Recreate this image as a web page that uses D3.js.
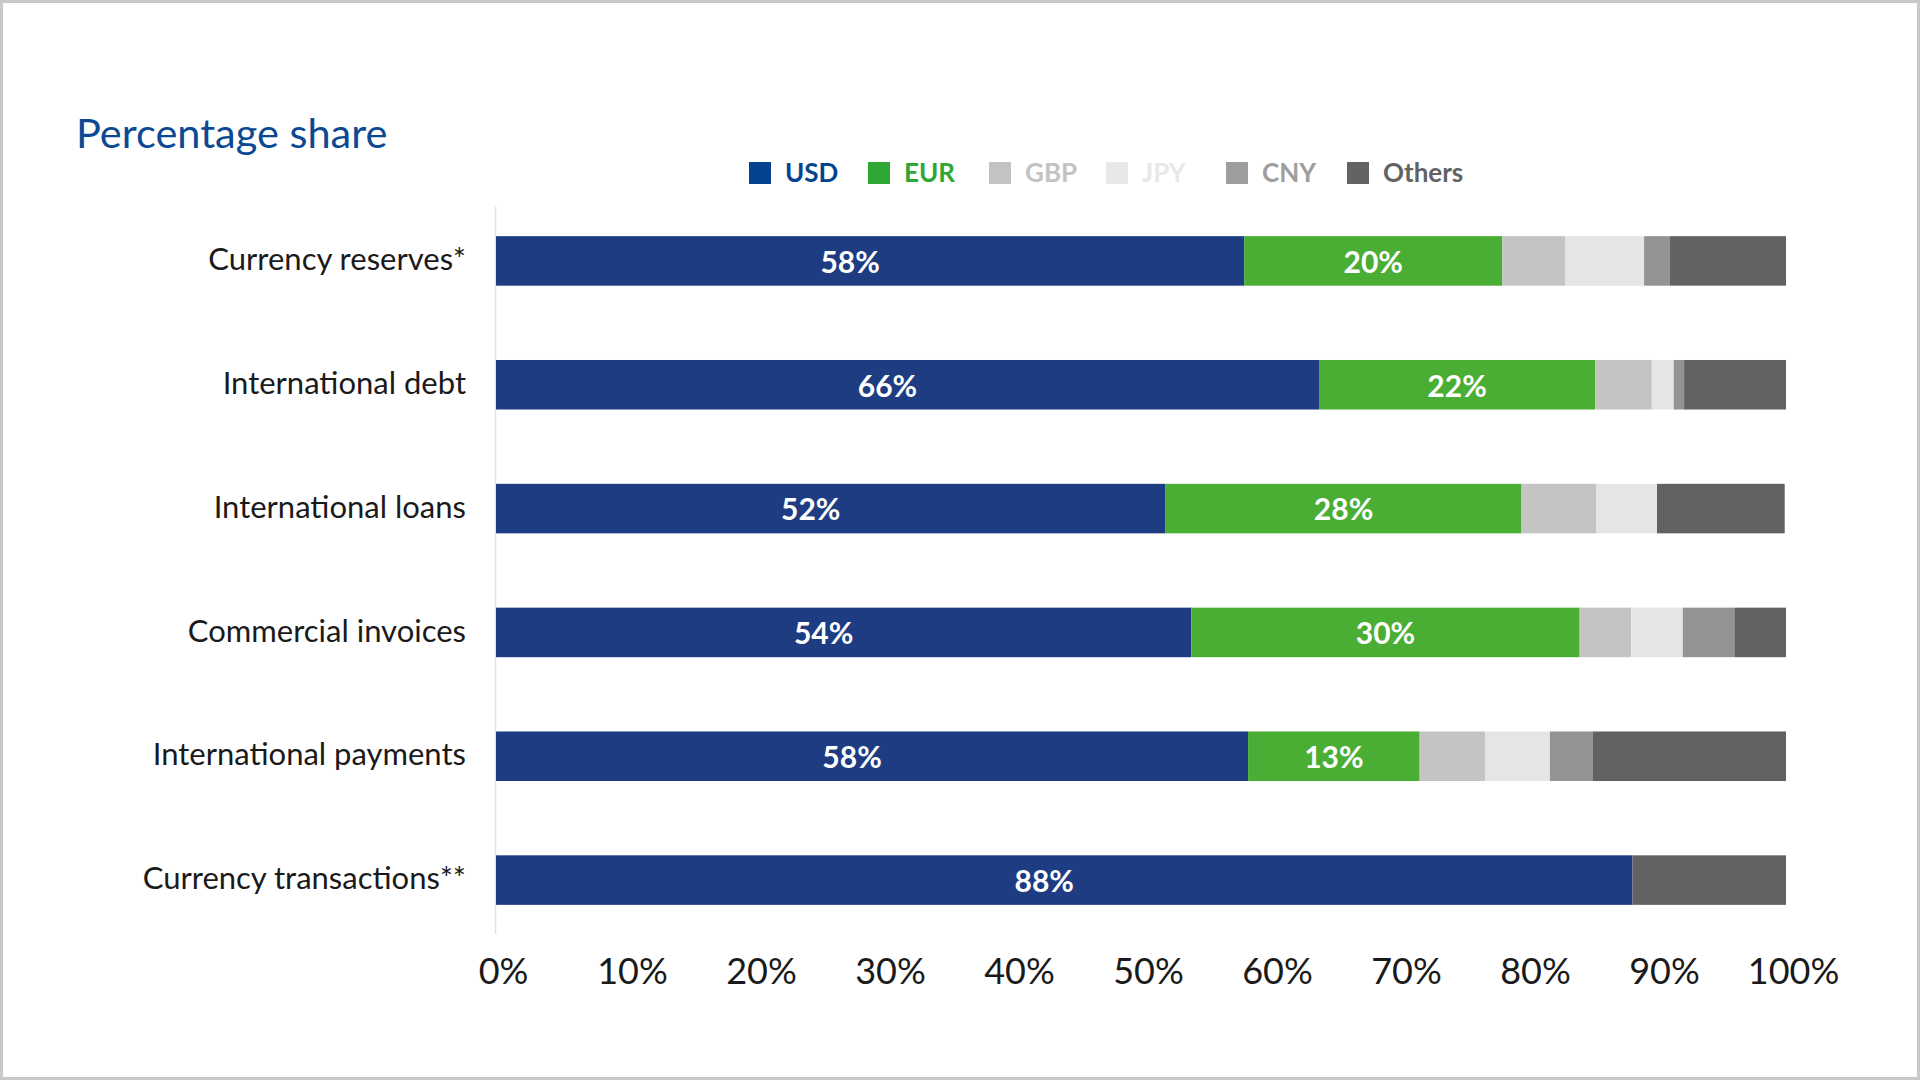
<!DOCTYPE html>
<html>
<head>
<meta charset="utf-8">
<script src="https://cdn.jsdelivr.net/npm/d3@7"></script>
<style>
  html, body { margin: 0; padding: 0; background: #fff; }
  svg { display: block; font-family: Lato, "Open Sans", sans-serif; }
</style>
</head>
<body>
<svg width="1920" height="1080"></svg>
<script>
// categories, top to bottom
let categories = ['Currency reserves*', 'International debt', 'International loans',
                  'Commercial invoices', 'International payments', 'Currency transactions**'];
let currencies = ['USD', 'EUR', 'GBP', 'JPY', 'CNY', 'Others'];

// segment widths (percent)
let usd    = [58.0, 63.8, 51.9, 53.9, 58.3, 88.1];
let eur    = [20.0, 21.4, 27.6, 30.1, 13.3, 0];
let gbp    = [4.9, 4.4, 5.8, 4.0, 5.1, 0];
let jpy    = [6.1, 1.7, 4.7, 4.0, 5.0, 0];
let cny    = [2.0, 0.8, 0, 4.0, 3.3, 0];
let others = [9.0, 7.9, 9.9, 4.0, 15.0, 11.9];

// printed labels inside the bars
let usdLabels = ['58%', '66%', '52%', '54%', '58%', '88%'];
let eurLabels = ['20%', '22%', '28%', '30%', '13%', ''];

let ticks = [0, 10, 20, 30, 40, 50, 60, 70, 80, 90, 100];

let barColors    = ['#1d3c82', '#4aad34', '#c4c4c4', '#e6e5e6', '#939393', '#626262'];
let legendColors = ['#04448e', '#2fa737', '#c3c3c3', '#e8e8e8', '#9e9e9e', '#636363'];

let svg = d3.select('svg');

// frame
svg.append('rect')
    .attr('x', 1.5).attr('y', 1.5)
    .attr('width', 1917).attr('height', 1077)
    .attr('fill', 'none')
    .attr('stroke', '#c8c8c8')
    .attr('stroke-width', 3);

let x = d3.scaleLinear().domain([0, 100]).range([496, 1786]);
let y = d3.scaleBand().domain(categories).range([199, 942])
    .paddingInner(0.6).paddingOuter(0.3);

let rows = categories.map((c, i) => {
    let r = { cat: c };
    [usd, eur, gbp, jpy, cny, others].forEach((arr, k) => { r[currencies[k]] = arr[i]; });
    return r;
});
let stacked = d3.stack().keys(currencies)(rows);
let color = d3.scaleOrdinal().domain(currencies).range(barColors);

// title
svg.append('text')
    .attr('x', 76).attr('y', 148)
    .attr('fill', '#0b4a93')
    .attr('font-size', 41.5)
    .text('Percentage share');

// legend
let legendX = [749, 868, 989, 1106, 1226, 1347];
let legend = svg.append('g').attr('class', 'legend')
    .selectAll('g').data(currencies).enter().append('g')
    .attr('transform', (d, i) => `translate(${legendX[i]}, 162)`);
legend.append('rect')
    .attr('width', 22).attr('height', 22)
    .attr('fill', (d, i) => legendColors[i]);
legend.append('text')
    .attr('x', 36).attr('y', 11)
    .attr('dy', '0.36em')
    .attr('font-size', 26)
    .attr('font-weight', 'bold')
    .attr('fill', (d, i) => legendColors[i])
    .text(d => d);

// axis line at 0
svg.append('line')
    .attr('x1', x(0) - 0.5).attr('x2', x(0) - 0.5)
    .attr('y1', 207).attr('y2', 934)
    .attr('stroke', '#e2e2e2')
    .attr('stroke-width', 1.5);

// bars
svg.append('g').attr('class', 'bars')
    .selectAll('g').data(stacked).enter().append('g')
    .attr('fill', d => color(d.key))
    .selectAll('rect').data(d => d).enter().append('rect')
    .attr('x', d => x(d[0]))
    .attr('y', d => y(d.data.cat))
    .attr('width', d => x(d[1]) - x(d[0]))
    .attr('height', y.bandwidth());

// value labels in USD and EUR segments (USD labels sit a little left of centre)
let labelSets = [usdLabels, eurLabels];
let labelShift = [-40, 0];
labelSets.forEach((labels, k) => {
    svg.append('g').attr('class', 'labels')
        .selectAll('text').data(stacked[k]).enter().append('text')
        .attr('x', d => (x(d[0]) + labelShift[k] + x(d[1])) / 2)
        .attr('y', d => y(d.data.cat) + y.bandwidth() / 2 + 1)
        .attr('dy', '0.36em')
        .attr('text-anchor', 'middle')
        .attr('fill', '#fff')
        .attr('font-size', 30)
        .attr('font-weight', 'bold')
        .text((d, i) => labels[i]);
});

// category labels
svg.append('g').attr('class', 'cats')
    .selectAll('text').data(categories).enter().append('text')
    .attr('x', 466)
    .attr('y', d => y(d) + y.bandwidth() / 2 - 2)
    .attr('dy', '0.36em')
    .attr('text-anchor', 'end')
    .attr('font-size', 31)
    .attr('fill', '#1a1a1a')
    .text(d => d);

// x axis
let xAxis = svg.append('g')
    .attr('transform', 'translate(7, 950)')
    .call(d3.axisBottom(x).tickValues(ticks).tickSize(0).tickFormat(d => d + '%'));
xAxis.select('.domain').remove();
xAxis.selectAll('text')
    .attr('font-family', 'Lato, sans-serif')
    .attr('font-size', 36)
    .attr('fill', '#1a1a1a')
    .attr('dy', '0.71em')
    .attr('y', 8);
</script>
</body>
</html>
